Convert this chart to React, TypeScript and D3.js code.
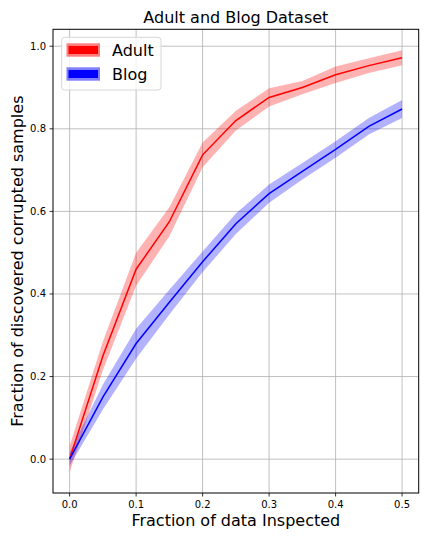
import * as d3 from "d3";

const fractions = [0, 0.05, 0.1, 0.15, 0.2, 0.25, 0.3, 0.35, 0.4, 0.45, 0.5];
const adultMean = [0, 0.25, 0.46, 0.575, 0.737, 0.82, 0.876, 0.9, 0.931, 0.953, 0.972];
const adultSpread = [0.032, 0.035, 0.04, 0.035, 0.03, 0.024, 0.022, 0.016, 0.02, 0.018, 0.018];
const blogMean = [0, 0.15, 0.28, 0.38, 0.478, 0.57, 0.643, 0.697, 0.75, 0.806, 0.848];
const blogSpread = [0.016, 0.03, 0.036, 0.03, 0.025, 0.025, 0.022, 0.02, 0.02, 0.02, 0.022];
const xTicks = [0, 0.1, 0.2, 0.3, 0.4, 0.5];
const yTicks = [0, 0.2, 0.4, 0.6, 0.8, 1.0];

const series = [
  { name: "Adult", mean: adultMean, spread: adultSpread, color: "#ff0000" },
  { name: "Blog", mean: blogMean, spread: blogSpread, color: "#0000ff" },
];

const WIDTH = 432;
const HEIGHT = 540;
const left = 53;
const right = 418.7;
const top = 29.3;
const bottom = 493;
const FONT = "'DejaVu Sans', sans-serif";

export default function App() {
  const x = d3.scaleLinear().domain([-0.025, 0.525]).range([left, right]);
  const y = d3.scaleLinear().domain([-0.082, 1.041]).range([bottom, top]);

  const area = (s) =>
    d3.area<number>()
      .x((d, i) => x(fractions[i]))
      .y0((d, i) => y(s.mean[i] - s.spread[i]))
      .y1((d, i) => y(s.mean[i] + s.spread[i]))(s.mean);
  const line = (s) =>
    d3.line<number>()
      .x((d, i) => x(fractions[i]))
      .y((d) => y(d))(s.mean);

  return (
    <>
      <style>{"body{margin:0}"}</style>
      <svg width={WIDTH} height={HEIGHT} style={{ display: "block", background: "#fff" }} fontFamily={FONT}>
        {/* grid */}
        {xTicks.map((t) => (
          <line key={"gx" + t} x1={x(t)} x2={x(t)} y1={top} y2={bottom} stroke="#b0b0b0" strokeWidth={0.8} />
        ))}
        {yTicks.map((t) => (
          <line key={"gy" + t} x1={left} x2={right} y1={y(t)} y2={y(t)} stroke="#b0b0b0" strokeWidth={0.8} />
        ))}

        {series.map((s) => (
          <path key={s.name + "band"} d={area(s)} fill={s.color} fillOpacity={0.3} />
        ))}
        {series.map((s) => (
          <path key={s.name + "line"} d={line(s)} fill="none" stroke={s.color} strokeWidth={1.5} />
        ))}

        {/* spines */}
        <rect x={left} y={top} width={right - left} height={bottom - top} fill="none" stroke="#000" strokeWidth={1} />

        {/* ticks */}
        {xTicks.map((t) => (
          <g key={"xt" + t}>
            <line x1={x(t)} x2={x(t)} y1={bottom} y2={bottom + 3.5} stroke="#000" strokeWidth={0.8} />
            <text x={x(t)} y={bottom + 14.5} textAnchor="middle" fontSize={10} fill="#000">
              {t.toFixed(1)}
            </text>
          </g>
        ))}
        {yTicks.map((t) => (
          <g key={"yt" + t}>
            <line x1={left - 3.5} x2={left} y1={y(t)} y2={y(t)} stroke="#000" strokeWidth={0.8} />
            <text x={left - 7} y={y(t) + 3.5} textAnchor="end" fontSize={10} fill="#000">
              {t.toFixed(1)}
            </text>
          </g>
        ))}

        <text x={(left + right) / 2} y={23} textAnchor="middle" fontSize={16} fill="#000">
          Adult and Blog Dataset
        </text>
        <text x={(left + right) / 2} y={526} textAnchor="middle" fontSize={16} fill="#000">
          Fraction of data Inspected
        </text>
        <text
          transform={`translate(23,${(top + bottom) / 2}) rotate(-90)`}
          textAnchor="middle"
          fontSize={16}
          fill="#000"
        >
          Fraction of discovered corrupted samples
        </text>

        {/* legend */}
        <rect x={61.7} y={37.3} width={99.3} height={52.7} rx={3} fill="#fff" fillOpacity={0.8} stroke="#d6d6d6" strokeWidth={1} />
        {series.map((s, i) => (
          <g key={s.name + "leg"}>
            <rect x={66.5} y={43.3 + i * 24} width={33.5} height={13.4} fill={s.color} fillOpacity={0.5} />
            <rect x={68.5} y={46 + i * 24} width={29.5} height={8} fill={s.color} />
            <text x={112} y={55.5 + i * 24} fontSize={16} fill="#000">
              {s.name}
            </text>
          </g>
        ))}
      </svg>
    </>
  );
}
